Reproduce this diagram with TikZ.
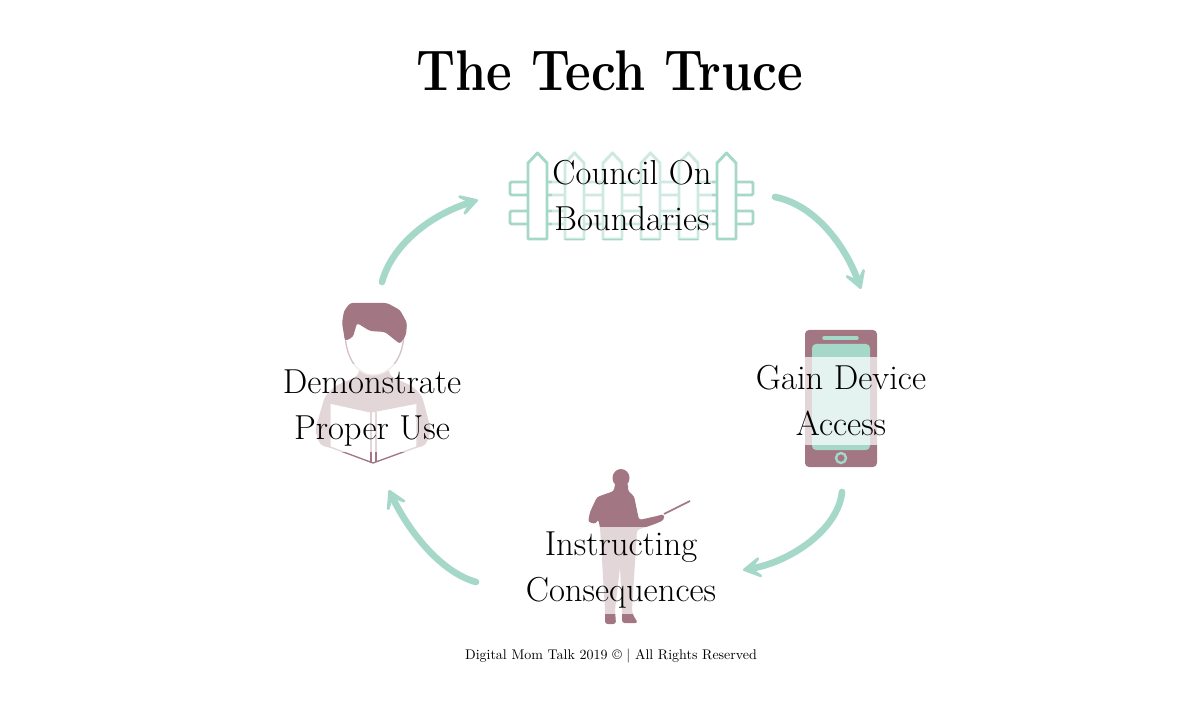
\documentclass[tikz,border=0pt]{standalone}
\usepackage{tikz}
\usetikzlibrary{arrows.meta}

\definecolor{mint}{HTML}{A6D8CA}
\definecolor{mauve}{HTML}{A27682}

\tikzset{
  steplabel/.style={fill=white,fill opacity=0.7,text opacity=1,inner sep=0pt,
    minimum height=65.25pt,align=center,text=black,
    font=\fontsize{26}{34.5}\selectfont},
  cyclearrow/.style={draw=mint,line width=5pt,line cap=round,
    -{Stealth[length=20pt,width=23pt,inset=12pt,round]}},
  picket/.style={draw=mint,line width=2.2pt,fill=white,line join=round},
  rail/.style={draw=mint,line width=2.2pt,rounded corners=1pt},
}

\begin{document}
\begin{tikzpicture}[x=0.75pt,y=0.75pt,yscale=-1,xscale=1]
  \useasboundingbox (0,0) rectangle (1200,702);

  % Title
  \node (title) at (610,71) {\fontsize{43}{50}\selectfont\bfseries\scalebox{0.87}[1]{The Tech Truce}};

  % Fence
  \draw [rail] (547,182) -- (510,182) -- (510,195) -- (735,195);
  \draw [rail] (547,182) -- (753,182) -- (753,195) -- (735,195);
  \draw [rail] (547,211) -- (510,211) -- (510,224) -- (735,224);
  \draw [rail] (547,211) -- (753,211) -- (753,224) -- (735,224);
  \foreach \px in {528,565,603,641,679,717}
    \draw [picket] (\px,239) -- (\px,163) -- (\px+9.5,153) -- (\px+19,163) -- (\px+19,239) -- cycle;

  % Phone
  \fill [mauve,rounded corners=3pt] (805,330) rectangle (877,467);
  \fill [mint,rounded corners=3pt] (812,344) rectangle (870,450);
  \draw [mint,line width=2.6pt,line cap=round] (824,338) -- (857,338);
  \draw [mint,line width=1.8pt] (841,458) circle (5);

  % Teacher
  \fill [mauve] (621,478) ellipse (8.5 and 9);
  \fill [mauve,rounded corners=2pt] (615,483) -- (628,483) -- (628,491) -- (634,496) -- (639,520)
    -- (657,516) -- (664,514) -- (664,520) -- (655,524) -- (637,530) -- (632,610)
    -- (633,615) -- (638,623) -- (622,623) -- (622,610) -- (620,567)
    -- (615,610) -- (616,624) -- (605,624) -- (605,610) -- (600,527)
    -- (598,519) -- (596,524) -- (588,522) -- (590,512) -- (597,497) -- (614,491) -- cycle;
  \draw [mauve,line width=1.3pt] (664,514) -- (690,501);

  % Reader
  \fill [mauve,rounded corners=3pt] (360,366) -- (388,366) -- (390,376) -- (412,386) -- (422,396) -- (431,430)
    -- (426,445) -- (417,448) -- (330,448) -- (320,445) -- (315,430) -- (325,396)
    -- (335,386) -- (358,376) -- cycle;
  \fill [white] (347,340) .. controls (348,365) and (362,375) .. (373,375)
    .. controls (385,375) and (400,365) .. (402,340) -- (400,320) -- (350,320) -- cycle;
  \draw [mauve!45!white,line width=1pt] (345,335) .. controls (347,365) and (362,375) .. (373,375)
    .. controls (385,375) and (402,365) .. (404,335);
  \fill [mauve,rounded corners=2pt] (350,303) -- (387,303) -- (400,310) -- (407,323) -- (406,335) -- (400,344)
    -- (385,332) -- (370,331) -- (357,323) -- (353,337) -- (345,341) -- (342,323) -- (344,311) -- cycle;
  \draw [mauve,line width=1pt,fill=white,line join=round]
    (330,403) -- (371,412) -- (417,403) -- (417,447) -- (373,463) -- (330,447) -- cycle;
  \draw [mauve,line width=1pt] (371,412) -- (371,463) (376,412) -- (376,462);

  % Step labels
  \node [steplabel,fill opacity=0.45,minimum width=120pt] (council) at (632,196) {Council On\\Boundaries};
  \node [steplabel,minimum width=128pt] (gain) at (841,401) {Gain Device\\Access};
  \node [steplabel,minimum width=146pt] (instruct) at (621,570) {Instructing\\Consequences};
  \node [steplabel,minimum width=136pt] (demo) at (372,408) {Demonstrate\\Proper Use};

  % Footer
  \node (footer) at (611,656) {\fontsize{10.5}{12}\selectfont Digital Mom Talk 2019 \textcopyright{} | All Rights Reserved};

  % Arrow ends
  \coordinate (a1) at (382,282);
  \coordinate (a2) at (478,200);
  \coordinate (b1) at (775,197);
  \coordinate (b2) at (861,289);
  \coordinate (c1) at (842,492);
  \coordinate (c2) at (743,570);
  \coordinate (d1) at (476,582);
  \coordinate (d2) at (389,490);

  % Arrows
  \draw [cyclearrow] (a1) .. controls (392,245) and (430,215) .. (a2);
  \draw [cyclearrow] (b1) .. controls (815,205) and (845,245) .. (b2);
  \draw [cyclearrow] (c1) .. controls (838,530) and (790,562) .. (c2);
  \draw [cyclearrow] (d1) .. controls (440,572) and (408,530) .. (d2);
\end{tikzpicture}
\end{document}
